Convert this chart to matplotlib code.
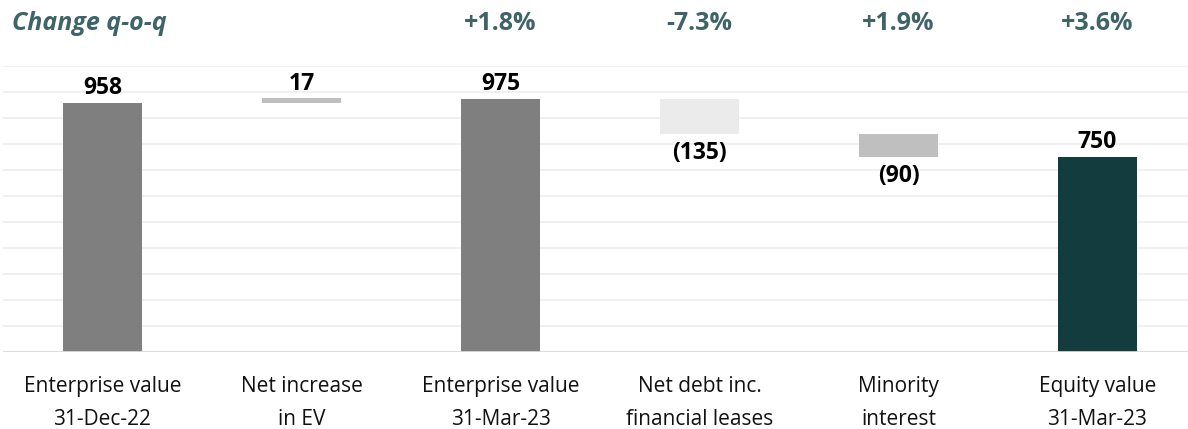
import matplotlib.pyplot as plt
import numpy as np

plt.rcParams['font.family'] = ['Open Sans', 'DejaVu Sans']

# ================================
# DADOS
# ================================
categorias = ['Enterprise value\n31-Dec-22', 'Net increase\nin EV', 'Enterprise value\n31-Mar-23',
              'Net debt inc.\nfinancial leases', 'Minority\ninterest', 'Equity value\n31-Mar-23']
valores = [958, 17, 975, -135, -90, 750]
tipos = ['total', 'delta', 'total', 'delta', 'delta', 'total']
rotulos = ['958', '17', '975', '(135)', '(90)', '750']
variacoes = ['', '', '+1.8%', '-7.3%', '+1.9%', '+3.6%']
cores = ['#7f7f7f', '#bfbfbf', '#7f7f7f', '#ebebeb', '#bfbfbf', '#133c3f']

COR_TITULO = '#3e6467'

# ================================
# GRÁFICO
# ================================
fig = plt.figure(figsize=(11.88, 4.29), dpi=100)
ax = fig.add_axes([3 / 1188, 77 / 429, 1194 / 1188, 286 / 429])

x = np.arange(len(categorias))
base_atual = 0
for i, (v, t) in enumerate(zip(valores, tipos)):
    if t == 'total':
        fundo, altura = 0, v
        base_atual = v
    else:
        fundo, altura = base_atual, v
        base_atual = base_atual + v
    ax.bar(x[i], altura, bottom=fundo, width=0.4, color=cores[i], zorder=3)
    topo = max(fundo, fundo + altura)
    baixo = min(fundo, fundo + altura)
    if v >= 0:
        ax.annotate(rotulos[i], xy=(x[i], topo), xytext=(0, 2), textcoords='offset points',
                    ha='center', va='bottom', fontsize=16.5, fontweight='bold', color='black')
    else:
        ax.annotate(rotulos[i], xy=(x[i], baixo), xytext=(0, -5), textcoords='offset points',
                    ha='center', va='top', fontsize=16.5, fontweight='bold', color='black')

ax.set_xlim(-0.5, len(categorias) - 0.5)
ax.set_ylim(0, 1100)
ax.set_yticks(np.arange(100, 1101, 100))
ax.grid(axis='y', color='#ededed', linewidth=1.2, zorder=0)
ax.axhline(0, color='#d9d9d9', linewidth=2, zorder=4)

for lado in ['top', 'right', 'left', 'bottom']:
    ax.spines[lado].set_visible(False)
ax.tick_params(axis='both', length=0)
ax.set_yticklabels([])
ax.set_xticks(x)
ax.set_xticklabels(categorias, fontsize=15, linespacing=1.75, color='#111111')
ax.tick_params(axis='x', pad=17)

# Linha de variação trimestral
fig.text(12 / 1188, 1 - 23 / 429, 'Change q-o-q', fontsize=18, fontweight='bold',
         fontstyle='italic', color=COR_TITULO, ha='left', va='center')
for i, var in enumerate(variacoes):
    if var:
        xf = ax.transData.transform((x[i], 0))[0] / fig.bbox.width
        fig.text(xf, 1 - 23 / 429, var, fontsize=18,
                 fontweight='bold', color=COR_TITULO, ha='center', va='center')

plt.savefig('out.png', dpi=100)
